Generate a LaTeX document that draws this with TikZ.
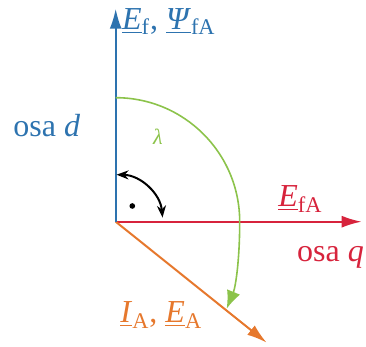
\documentclass[tikz,border=0pt]{standalone}
\usepackage{fontspec}
\setmainfont{Liberation Serif}
\usetikzlibrary{arrows.meta, positioning}
\definecolor{axisblue}{RGB}{45,115,175}
\definecolor{axisred}{RGB}{215,35,60}
\definecolor{axisorange}{RGB}{230,120,45}
\definecolor{arcgreen}{RGB}{140,195,75}

\begin{document}
\begin{tikzpicture}[x=0.5pt, y=0.5pt,
            axis/.style = {line width=1pt, -{Latex[length=10pt, width=6pt]}},
            lbl/.style = {inner sep=0pt, anchor=base west, font=\fontsize{16}{19}\selectfont},
            dot/.style = {circle, fill=black, inner sep=1pt},
            >={Stealth[length=6pt, width=4.5pt]}]
            \useasboundingbox (-115.7,-125.3) rectangle (250.3,221.7);
            \def\rl{124}
            \def\rr{47}
            \coordinate (O) at (0,0);
            \coordinate (D) at (0,213);
            \coordinate (Q) at (246,0);
            \coordinate (A) at (151,-121);
            \coordinate (L0) at (0,\rl);
            \coordinate (L2) at (111,-87);
            \coordinate (R0) at ({\rr*cos 89},{\rr*sin 89});
            \draw[axis, axisred] (O) -- (Q);
            \draw[axis, axisorange] (O) -- (A);
            \draw[axis, axisblue] (O) -- (D);
            \draw[arcgreen, line width=0.8pt, -{Latex[length=9pt, width=7pt]}] (L0)
                arc[start angle=90, end angle=0, radius=\rl]
                .. controls +(0,-38) and +(9,22) .. (L2);
            \draw[line width=1pt, <->] (R0)
                arc[start angle=89, end angle=5, radius=\rr];
            \node[dot] (P) at (16.6,15.7) {};
            \node[lbl, text=axisblue] (Ef) at (6,192.4)
                {\underline{\textit{E}}\textsubscript{f}, \underline{\textit{Ψ}}\textsubscript{fA}};
            \node[lbl, text=axisblue] (osad) at (-102.7,85) {osa \textit{d}};
            \node[lbl, text=axisred] (EfA) at (162.3,14.7) {\underline{\textit{E}}\textsubscript{fA}};
            \node[lbl, text=axisred] (osaq) at (181,-40) {osa \textit{q}};
            \node[lbl, text=axisorange] (IA) at (4.3,-101.3)
                {\underline{\textit{I}}\textsubscript{A}, \underline{\textit{E}}\textsubscript{A}};
            \node[text=arcgreen, font=\fontsize{11}{13}\selectfont\itshape] (lam) at (42.3,85) {λ};
\end{tikzpicture}
\end{document}
